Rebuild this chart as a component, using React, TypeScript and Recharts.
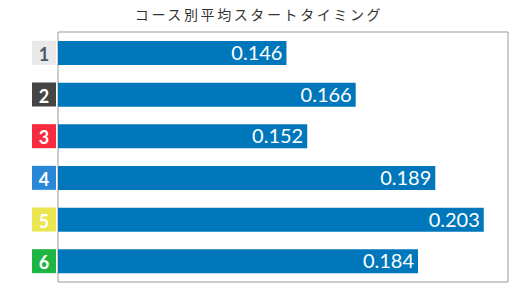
import React from "react";
import { BarChart, Bar, XAxis, YAxis, LabelList, ReferenceArea } from "recharts";

const courses = ["1", "2", "3", "4", "5", "6"];
const avgST = [0.146, 0.166, 0.152, 0.189, 0.203, 0.184];
const badgeFill = ["#e9e9e9", "#454545", "#f72a3e", "#2a87d7", "#ebe64f", "#1fb545"];
const badgeText = ["#4b5866", "#ffffff", "#ffffff", "#ffffff", "#ffffff", "#ffffff"];
const title = "コース別平均スタートタイミング";

const data = courses.map((c, i) => ({ course: c, st: avgST[i] }));

const BadgeTick = (props: any) => {
  const { x, y, payload, index } = props;
  const i = courses.indexOf(String(payload.value));
  return (
    <g>
      <rect x={x - 26} y={y - 12} width={24} height={24} fill={badgeFill[i]} />
      <text
        x={x - 14}
        y={y + 1}
        textAnchor="middle"
        dominantBaseline="central"
        fontFamily="Lato, sans-serif"
        fontWeight={700}
        fontSize={18}
        fill={badgeText[i]}
      >
        {payload.value}
      </text>
    </g>
  );
};

export default function App() {
  return (
    <div style={{ position: "absolute", left: 0, top: 0, width: 530, height: 290, background: "#fff" }}>
      <div
        style={{
          position: "absolute",
          left: 0,
          top: 5,
          width: 518,
          textAlign: "center",
          fontFamily: "'Noto Sans CJK JP', sans-serif",
          fontSize: 14,
          letterSpacing: 2.6,
          color: "#333",
          lineHeight: "18px",
        }}
      >
        {title}
      </div>
      <BarChart
        width={530}
        height={290}
        data={data}
        layout="vertical"
        margin={{ top: 32, right: 22, bottom: 8, left: 0 }}
      >
        <XAxis type="number" domain={[0.08, 0.21]} allowDataOverflow hide />
        <YAxis
          type="category"
          dataKey="course"
          width={58}
          axisLine={false}
          tickLine={false}
          tickSize={0}
          tickMargin={0}
          tick={<BadgeTick />}
        />
        <Bar dataKey="st" fill="#0077bb" barSize={24} isAnimationActive={false}>
          <LabelList
            dataKey="st"
            position="insideRight"
            offset={4}
            fill="#ffffff"
            fontSize={20}
            fontFamily="Lato, sans-serif"
            formatter={(v: any) => Number(v).toFixed(3)}
          />
        </Bar>
        <ReferenceArea x1={0.08} x2={0.21} fill="none" fillOpacity={0} stroke="#999" strokeWidth={1} ifOverflow="visible" />
      </BarChart>
    </div>
  );
}
